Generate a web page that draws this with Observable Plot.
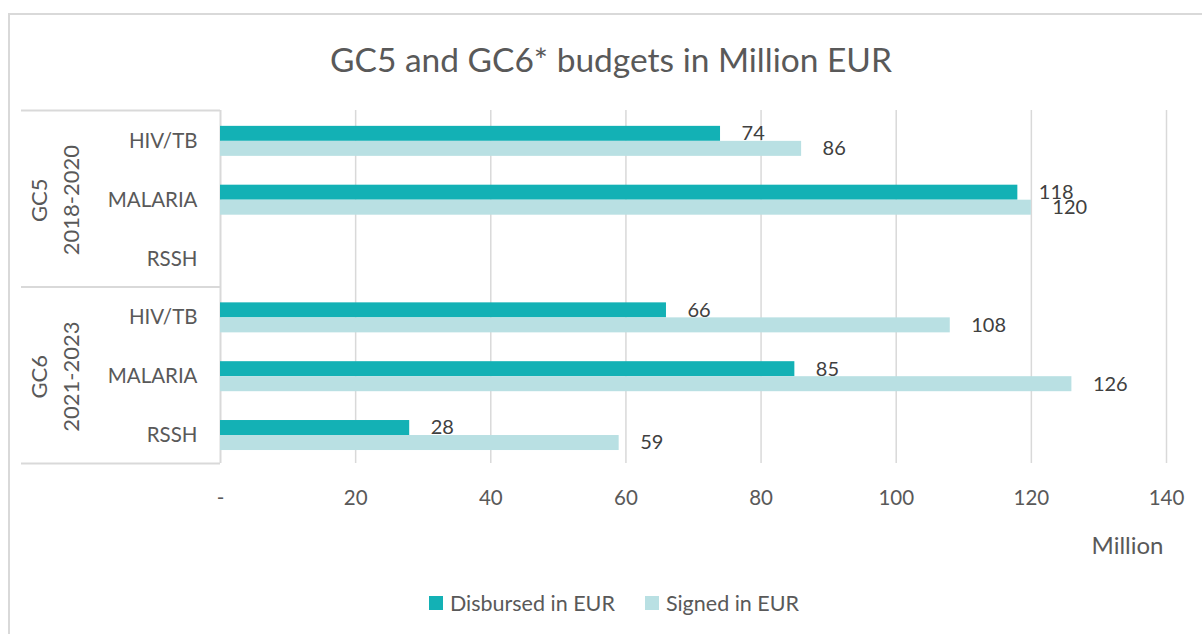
<!DOCTYPE html>
<html>
<head>
<meta charset="utf-8">
<script src="https://cdn.jsdelivr.net/npm/d3@7"></script>
<script src="https://cdn.jsdelivr.net/npm/@observablehq/plot@0.6"></script>
<style>
  html, body { margin: 0; padding: 0; background: #fff; }
  #wrap { position: relative; width: 1202px; height: 634px; overflow: hidden; font-family: Lato, sans-serif; }
  #border { position: absolute; left: 8px; top: 13px; width: 1300px; height: 700px; border: 2px solid #d9d9d9; box-sizing: border-box; }
  #title { position: absolute; left: 8px; right: -12px; top: 39px; text-align: center; font-size: 33.5px; line-height: 40px; color: #595959; }
  #chart { position: absolute; left: 0; top: 90px; }
  #legend { position: absolute; left: 0; right: -26px; top: 590px; display: flex; justify-content: center; align-items: center; font-size: 21.5px; line-height: 26px; color: #595959; }
  .item { display: flex; align-items: center; margin: 0 15px; }
  .sw { width: 14px; height: 14px; margin-right: 7px; }
</style>
</head>
<body>
<div id="wrap">
  <div id="border"></div>
  <div id="title">GC5 and GC6* budgets in Million EUR</div>
  <div id="chart"></div>
  <div id="legend"></div>
</div>
<script>
// ---- data ----
const groupKeys = ["GC5", "GC6"];
const groupLabels = ["GC5\n2018-2020", "GC6\n2021-2023"];
const categories = ["HIV/TB", "MALARIA", "RSSH"];
const disbursed = [74, 118, null, 66, 85, 28];
const signed = [86, 120, null, 108, 126, 59];
const xTicks = [0, 20, 40, 60, 80, 100, 120, 140];
const seriesNames = ["Disbursed in EUR", "Signed in EUR"];
const seriesColors = ["#13b1b5", "#b9e0e3"];

// ---- build table ----
const keys = groupKeys.flatMap(g => categories.map(c => g + "|" + c));
const rows = [];
keys.forEach((k, i) => {
  if (disbursed[i] != null) rows.push({key: k, series: seriesNames[0], value: disbursed[i]});
  if (signed[i] != null) rows.push({key: k, series: seriesNames[1], value: signed[i]});
});
const dRows = rows.filter(r => r.series === seriesNames[0]);
const sRows = rows.filter(r => r.series === seriesNames[1]);
const groupRows = groupKeys.map((g, i) => ({key: g + "|" + categories[1], label: groupLabels[i]}));
const firstKeys = groupKeys.map(g => g + "|" + categories[0]);
const lastKey = [keys[keys.length - 1]];

// ---- layout ----
const W = 1202, H = 480, mT = 20, mB = 107, mL = 220, mR = 36;
const pInner = 0.49, pOuter = pInner / 2, align = 0.55;
const step = (H - mT - mB) / keys.length;
const bw = step * (1 - pInner);
const shift = (align - 0.5) * 2 * pOuter * step;
const ruleInsetL = -(mL - 21);
const ruleInsetR = W - mR - mL;

const chart = Plot.plot({
  width: W, height: H,
  marginTop: mT, marginBottom: mB, marginLeft: mL, marginRight: mR,
  style: {fontFamily: "Lato, sans-serif", fontSize: "20.5px", color: "#595959", background: "transparent", overflow: "visible"},
  x: {domain: [0, 140], ticks: xTicks, tickFormat: d => d === 0 ? "-" : String(d), tickSize: 0, tickPadding: 27, label: null},
  y: {domain: keys, paddingInner: pInner, paddingOuter: pOuter, align: align, round: false,
      tickSize: 0, tickPadding: 23, tickFormat: k => k.split("|")[1], label: null},
  marks: [
    Plot.ruleX(xTicks.slice(1), {stroke: "#d9d9d9", strokeWidth: 1.5}),
    Plot.ruleX([0], {stroke: "#d9d9d9", strokeWidth: 2}),
    Plot.ruleY(firstKeys, {y: d => d, dy: -step / 2 - shift, insetLeft: ruleInsetL, insetRight: ruleInsetR, stroke: "#d9d9d9", strokeWidth: 2}),
    Plot.ruleY(lastKey, {y: d => d, dy: step / 2 - shift, insetLeft: ruleInsetL, insetRight: ruleInsetR, stroke: "#d9d9d9", strokeWidth: 2}),
    Plot.barX(dRows, {y: "key", x: "value", fill: seriesColors[0], insetBottom: bw / 2}),
    Plot.barX(sRows, {y: "key", x: "value", fill: seriesColors[1], insetTop: bw / 2}),
    Plot.text(dRows, {y: "key", x: "value", text: d => String(d.value), dx: 21, dy: -bw / 4, textAnchor: "start", fontSize: 20, fill: "#404040"}),
    Plot.text(sRows, {y: "key", x: "value", text: d => String(d.value), dx: 21, dy: bw / 4, textAnchor: "start", fontSize: 20, fill: "#404040"}),
    Plot.text(groupRows, {y: "key", text: "label", frameAnchor: "left", textAnchor: "middle", rotate: -90, dx: -168, lineHeight: 1.45, fontSize: 22, fill: "#595959"}),
    Plot.text(["Million"], {text: d => d, frameAnchor: "bottom-right", dy: 90, dx: -3, textAnchor: "end", fontSize: 24, fill: "#595959"})
  ]
});
document.getElementById("chart").appendChild(chart);

// ---- legend ----
const legend = document.getElementById("legend");
seriesNames.forEach((name, i) => {
  const item = document.createElement("div");
  item.className = "item";
  const sw = document.createElement("span");
  sw.className = "sw";
  sw.style.background = seriesColors[i];
  const t = document.createElement("span");
  t.textContent = name;
  item.appendChild(sw);
  item.appendChild(t);
  legend.appendChild(item);
});
</script>
</body>
</html>
